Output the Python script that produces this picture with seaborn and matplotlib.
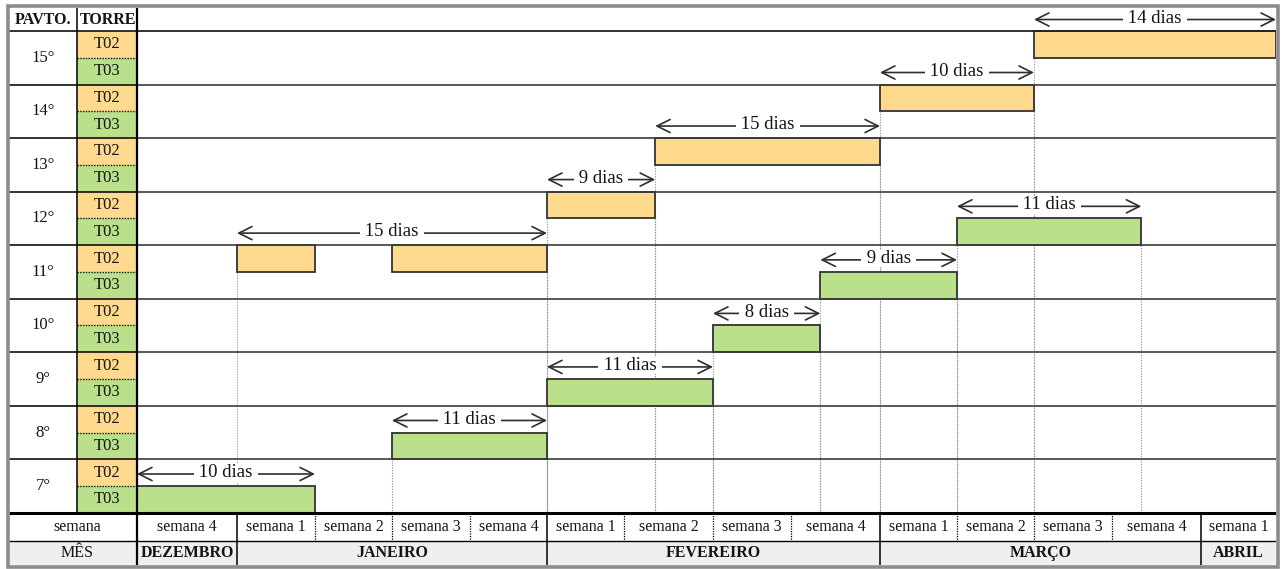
import numpy as np
import matplotlib
matplotlib.use("Agg")
import matplotlib.pyplot as plt
from matplotlib.patches import Rectangle
import seaborn as sns

# ---------------------------------------------------------------- data
floors = ["15°", "14°", "13°", "12°", "11°", "10°", "9°", "8°", "7°"]
towers = ["T02", "T03"]

months = ["DEZEMBRO", "JANEIRO", "FEVEREIRO", "MARÇO", "ABRIL"]
month_weeks = [[4], [1, 2, 3, 4], [1, 2, 3, 4], [1, 2, 3, 4], [1]]

# T03 tasks: start / end measured in week columns from the first column
t03_floor = ["7°", "8°", "9°", "10°", "11°", "12°"]
t03_start = [0.0, 3.0, 5.0, 7.0, 8.33, 10.0]
t03_end = [2.0, 5.0, 7.0, 8.33, 10.0, 12.33]
t03_dias = [10, 11, 11, 8, 9, 11]

# T02 tasks
t02_floor = ["11°", "12°", "13°", "14°", "15°"]
t02_start = [1.0, 5.0, 6.35, 9.0, 11.0]
t02_end = [5.0, 6.35, 9.0, 11.0, 14.0]
t02_dias = [15, 9, 15, 10, 14]

# interruptions inside a task
pause_floor = ["11°"]
pause_tower = ["T02"]
pause_start = [2.0]
pause_end = [3.0]

# ---------------------------------------------------------------- layout
W, H = 1286, 569
# column edges (PAVTO, TORRE, then one column per week) in pixels
col_px = np.array([9, 77, 137, 237, 315, 392, 470, 547, 624, 713, 791,
                   880, 957, 1034, 1112, 1201, 1276], dtype=float)
col_idx = np.arange(-2, 15, dtype=float)
xi = np.concatenate([[-1000.0], col_idx, [1000.0]])
xp = np.concatenate([[col_px[0] - 998 * 60.0], col_px, [col_px[-1] + 986 * 80.0]])


def fwd(x):
    return np.interp(x, xi, xp)


def inv(p):
    return np.interp(p, xp, xi)


def mid(a, b):
    return float(inv((fwd(a) + fwd(b)) / 2.0))


HEAD = 0.86          # header row height (row units)
BODY = 2 * len(floors)
SEM = 1.05
MES = 0.90
TOP, BOT = -HEAD, BODY + SEM + MES

ORANGE = "#FFD98E"
GREEN = "#BBE08C"
INK = "#141414"
EDGE = "#333333"

sns.set_theme(style="white")
plt.rcParams["font.family"] = ["Liberation Serif", "DejaVu Serif"]

fig = plt.figure(figsize=(W / 100, H / 100), dpi=100)
fig.patch.set_facecolor("white")
ax = fig.add_axes([9 / W, 1 - 565 / H, (1276 - 9) / W, (565 - 8) / H])
ax.set_xscale("function", functions=(fwd, inv))
ax.set_xlim(-2, 14)
ax.set_ylim(BOT, TOP)
ax.set_axis_off()

# ---------------------------------------------------------------- cell fills
ax.add_patch(Rectangle((-2, BODY + SEM), 16, MES, facecolor="#EFEFEF",
                       edgecolor="none", zorder=0.5))
for k in range(len(floors)):
    ax.add_patch(Rectangle((-1, 2 * k), 1, 1, facecolor=ORANGE,
                           edgecolor="none", zorder=0.5))
    ax.add_patch(Rectangle((-1, 2 * k + 1), 1, 1, facecolor=GREEN,
                           edgecolor="none", zorder=0.5))


def row_of(floor, tower):
    return 2 * floors.index(floor) + towers.index(tower)


def segments(floor, tower, s, e):
    segs = [(s, e)]
    for pf, pt, ps, pe in zip(pause_floor, pause_tower, pause_start, pause_end):
        if pf == floor and pt == tower:
            new = []
            for a, b in segs:
                if ps > a and pe < b:
                    new += [(a, ps), (pe, b)]
                else:
                    new.append((a, b))
            segs = new
    return segs


tasks = ([(f, "T03", s, e, d) for f, s, e, d in zip(t03_floor, t03_start, t03_end, t03_dias)]
         + [(f, "T02", s, e, d) for f, s, e, d in zip(t02_floor, t02_start, t02_end, t02_dias)])

# ---------------------------------------------------------------- drop lines
for f, tw, s, e, d in tasks:
    r = row_of(f, tw)
    ax.vlines([s, e], r + 1, BODY, colors="#9c9c9c", linewidth=0.8,
              linestyles=(0, (1.2, 1.2)), zorder=1)

# ---------------------------------------------------------------- bars
for f, tw, s, e, d in tasks:
    r = row_of(f, tw)
    segs = segments(f, tw, s, e)
    lefts = [a for a, b in segs]
    widths = [b - a for a, b in segs]
    ax.barh([r + 0.5] * len(segs), widths, left=lefts, height=1.0,
            color=ORANGE if tw == "T02" else GREEN, edgecolor=EDGE,
            linewidth=1.3, zorder=2)

# ---------------------------------------------------------------- grid lines
for k in range(1, len(floors)):
    ax.hlines(2 * k, -2, 0, colors="#111111", linewidth=1.2, zorder=6)
    ax.hlines(2 * k, 0, 14, colors="#3c3c3c", linewidth=1.2, zorder=6)
ax.hlines(0, -2, 14, colors="#222222", linewidth=1.3, zorder=6)
for k in range(len(floors)):
    ax.hlines(2 * k + 1, -1, 0, colors="#111111", linewidth=1.0,
              linestyles=(0, (1, 1)), zorder=6)
ax.hlines(BODY, -2, 14, colors="#000000", linewidth=2.2, zorder=6)
ax.hlines(BODY + SEM, -2, 14, colors="#000000", linewidth=1.0, zorder=6)
ax.vlines(-1, TOP, BODY, colors="#000000", linewidth=1.1, zorder=6)
ax.vlines(0, TOP, BOT, colors="#000000", linewidth=1.6, zorder=6)

# week / month separators in the bottom rows
bounds = np.cumsum([len(w) for w in month_weeks])
for b in range(1, 14):
    if b in bounds:
        ax.vlines(b, BODY, BOT, colors="#000000", linewidth=1.1, zorder=6)
    else:
        ax.vlines(b, BODY, BODY + SEM, colors="#000000", linewidth=0.9,
                  linestyles=(0, (1, 1)), zorder=6)

# ---------------------------------------------------------------- outer frame
fig.add_artist(Rectangle((7.5 / W, 1 - 566.5 / H), (1277.5 - 7.5) / W,
                         (566.5 - 6) / H, transform=fig.transFigure,
                         fill=False, edgecolor="#8C8C8C", linewidth=2.6))

# ---------------------------------------------------------------- texts
ax.text(-1.5, -HEAD / 2, "PAVTO.", ha="center", va="center", fontsize=11.5,
        fontweight="bold", color=INK, zorder=5)
t = ax.text(float(inv(80)), -HEAD / 2, "TORRE", ha="left", va="center",
            fontsize=11.5, fontweight="bold", color=INK, zorder=5)
t.set_clip_on(True)
t.set_clip_path(Rectangle((-1, TOP), 1, HEAD, transform=ax.transData))

for k, f in enumerate(floors):
    ax.text(-1.5, 2 * k + 1, f, ha="center", va="center", fontsize=12,
            color=INK, zorder=5)
    for j, tw in enumerate(towers):
        ax.text(-0.5, 2 * k + j + 0.5, tw, ha="center", va="center",
                fontsize=12, color=INK, zorder=5)

ax.text(-1, BODY + SEM / 2, "semana", ha="center", va="center", fontsize=11.5,
        color=INK, zorder=5)
ax.text(-1, BODY + SEM + MES / 2, "MÊS", ha="center", va="center",
        fontsize=11.5, color=INK, zorder=5)
col = 0
for m, weeks in zip(months, month_weeks):
    for w in weeks:
        ax.text(col + 0.5, BODY + SEM / 2, f"semana {w}", ha="center",
                va="center", fontsize=11.5, color=INK, zorder=5)
        col += 1
    ax.text(mid(col - len(weeks), col), BODY + SEM + MES / 2, m, ha="center",
            va="center", fontsize=11.5, fontweight="bold", color=INK, zorder=5)

# ---------------------------------------------------------------- duration arrows
for f, tw, s, e, d in tasks:
    r = row_of(f, tw)
    ya = max(r - 0.45, -HEAD / 2)
    ax.annotate("", xy=(s, ya), xytext=(e, ya),
                arrowprops=dict(arrowstyle="<->,head_length=0.7,head_width=0.35",
                                color="#2e2e2e", linewidth=1.2, shrinkA=0,
                                shrinkB=0, mutation_scale=13.5),
                zorder=4)
    ax.text(mid(s, e), ya - 0.05, f" {d} dias ", ha="center", va="center",
            fontsize=13.5, color=INK, zorder=5,
            bbox=dict(boxstyle="square,pad=0.02", facecolor="white",
                      edgecolor="none"))

fig.savefig("out.png", dpi=100, facecolor="white")
